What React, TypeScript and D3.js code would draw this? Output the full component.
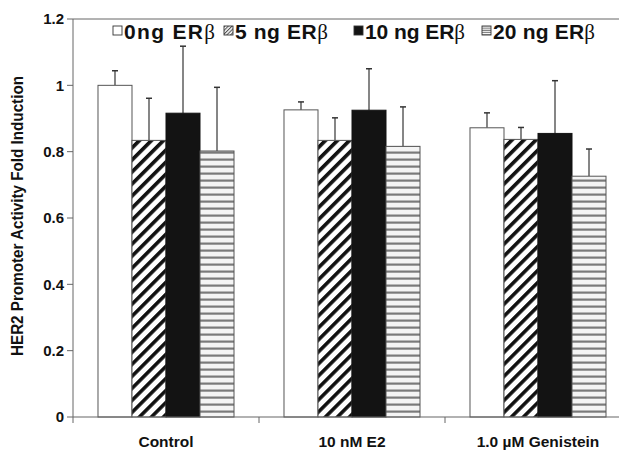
import React from "react";
import * as d3 from "d3";

const categories = ["Control", "10 nM E2", "1.0 \u00b5M Genistein"];
const seriesNames = ["0ng ER", "5 ng ER", "10 ng ER", "20 ng ER"];
const yTicks = [0, 0.2, 0.4, 0.6, 0.8, 1, 1.2];

// mean fold induction, one array per ERb dose
const dose0 = [1.0, 0.926, 0.872];
const dose5 = [0.834, 0.834, 0.837];
const dose10 = [0.916, 0.925, 0.855];
const dose20 = [0.802, 0.816, 0.726];

// upper error (SD)
const err0 = [0.044, 0.024, 0.045];
const err5 = [0.127, 0.068, 0.036];
const err10 = [0.202, 0.125, 0.159];
const err20 = [0.192, 0.119, 0.082];

const values = [dose0, dose5, dose10, dose20];
const errors = [err0, err5, err10, err20];
const fills = ["#ffffff", "url(#hatch)", "#131313", "url(#hstripe)"];
const legendFills = ["#ffffff", "url(#hatchSmall)", "#131313", "url(#hstripeSmall)"];

const W = 619;
const H = 450;
const margin = { left: 73, top: 19, bottom: 33 };
const catWidth = 186;
const legendTextX = [124, 235, 365, 493];
const legendTextLen = [91, 93, 100, 102];

export default function App() {
  const x0 = d3
    .scaleBand<string>()
    .domain(categories)
    .range([margin.left, margin.left + catWidth * categories.length]);

  const x1 = d3
    .scaleBand<number>()
    .domain(d3.range(seriesNames.length))
    .range([0, x0.bandwidth()])
    .paddingOuter(0.735);

  const y = d3
    .scaleLinear()
    .domain([0, 1.2])
    .range([H - margin.bottom, margin.top]);

  const y0 = y(0);
  const axisColor = "#666";
  const font = "'Liberation Sans', Arial, Helvetica, sans-serif";

  return (
    <svg
      width={W}
      height={H}
      style={{ position: "absolute", left: 0, top: 0, background: "#fff" }}
    >
      <defs>
        <pattern
          id="hatch"
          patternUnits="userSpaceOnUse"
          width="8.5"
          height="8.5"
          patternTransform="rotate(45)"
        >
          <rect width="8.5" height="8.5" fill="#fff" />
          <rect x="0" width="3.6" height="8.5" fill="#111" />
        </pattern>
        <pattern id="hstripe" patternUnits="userSpaceOnUse" width="8" height="7">
          <rect width="8" height="7" fill="#f4f4f4" />
          <rect y="4.5" width="8" height="2.2" fill="#7a7a7a" />
        </pattern>
        <pattern
          id="hatchSmall"
          patternUnits="userSpaceOnUse"
          width="2.6"
          height="2.6"
          patternTransform="rotate(45)"
        >
          <rect width="2.6" height="2.6" fill="#fff" />
          <rect width="1.1" height="2.6" fill="#555" />
        </pattern>
        <pattern id="hstripeSmall" patternUnits="userSpaceOnUse" width="4" height="2.2">
          <rect width="4" height="2.2" fill="#fff" />
          <rect y="1.2" width="4" height="1" fill="#777" />
        </pattern>
      </defs>

      {/* bars */}
      {categories.map((cat, ci) => (
        <g key={cat} transform={`translate(${x0(cat)},0)`}>
          {values.map((vals, si) => {
            const bx = x1(si) as number;
            const top = y(vals[ci]);
            const etop = y(vals[ci] + errors[si][ci]);
            const cx = bx + x1.bandwidth() / 2;
            return (
              <g key={si}>
                <line x1={cx} x2={cx} y1={top} y2={etop} stroke="#444" strokeWidth={1.3} />
                <line x1={cx - 3} x2={cx + 3} y1={etop} y2={etop} stroke="#333" strokeWidth={1.5} />
                <rect
                  x={bx}
                  y={top}
                  width={x1.bandwidth()}
                  height={y0 - top}
                  fill={fills[si]}
                  stroke={si === 2 ? "#131313" : "#555"}
                  strokeWidth={1}
                />
              </g>
            );
          })}
        </g>
      ))}

      {/* axes */}
      <line x1={margin.left} x2={W} y1={y(1.2)} y2={y(1.2)} stroke={axisColor} strokeWidth={1} />
      <line x1={margin.left} x2={margin.left} y1={y(1.2)} y2={y0} stroke={axisColor} strokeWidth={1} />
      <line x1={margin.left} x2={W} y1={y0} y2={y0} stroke={axisColor} strokeWidth={1.2} />
      {yTicks.map((t) => (
        <g key={t}>
          <line x1={margin.left - 6} x2={margin.left} y1={y(t)} y2={y(t)} stroke={axisColor} />
          <text
            x={margin.left - 9}
            y={y(t)}
            dy="0.35em"
            textAnchor="end"
            fontFamily={font}
            fontWeight="bold"
            fontSize={15}
            fill="#111"
          >
            {t}
          </text>
        </g>
      ))}
      {categories.map((cat) => (
        <g key={cat}>
          <line
            x1={x0(cat)}
            x2={x0(cat)}
            y1={y0}
            y2={y0 + 6}
            stroke={axisColor}
          />
          <text
            x={(x0(cat) as number) + x0.bandwidth() / 2}
            y={y0 + 30}
            textAnchor="middle"
            fontFamily={font}
            fontWeight="bold"
            fontSize={15.5}
            fill="#111"
          >
            {cat}
          </text>
        </g>
      ))}

      <text
        transform={`translate(23,${(y(1.2) + y0) / 2 - 2}) rotate(-90)`}
        textAnchor="middle"
        fontFamily={font}
        fontWeight="bold"
        fontSize={16}
        fill="#111"
        textLength={280}
        lengthAdjust="spacingAndGlyphs"
      >
        HER2 Promoter Activity Fold Induction
      </text>

      {/* legend */}
      {seriesNames.map((name, i) => (
        <g key={name}>
          <rect
            x={legendTextX[i] - 11}
            y={26}
            width={9}
            height={9}
            fill={legendFills[i]}
            stroke="#333"
            strokeWidth={0.9}
          />
          <text
            x={legendTextX[i]}
            y={39}
            fontFamily={font}
            fontWeight="bold"
            fontSize={21}
            fill="#111"
            textLength={legendTextLen[i]}
            lengthAdjust="spacing"
          >
            {name}
            <tspan fontFamily="'Liberation Serif', 'DejaVu Serif', serif" fontWeight="normal">
              {"\u03b2"}
            </tspan>
          </text>
        </g>
      ))}
    </svg>
  );
}
